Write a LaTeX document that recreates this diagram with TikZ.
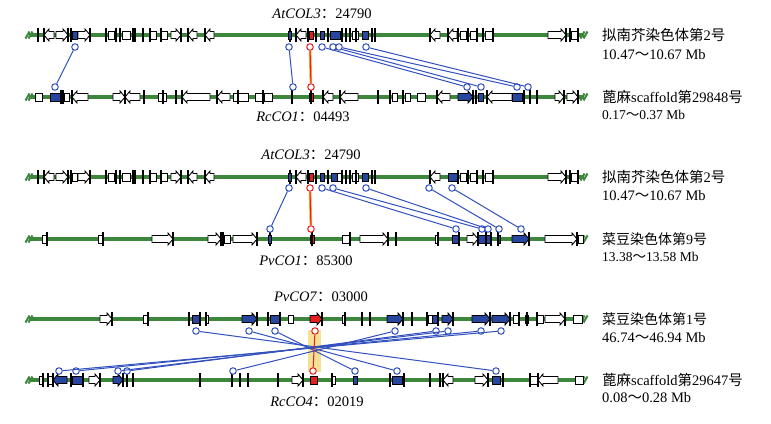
\documentclass[tikz,border=0pt]{standalone}
\usepackage{fontspec}
\setmainfont{Liberation Serif}
\newfontfamily\cjk{Noto Sans CJK SC}
\definecolor{trackgreen}{RGB}{60,135,60}
\definecolor{geneblue}{RGB}{40,70,160}
\definecolor{linkblue}{RGB}{50,80,190}
\definecolor{genered}{RGB}{230,30,30}
\definecolor{hlyellow}{RGB}{245,225,150}
\definecolor{glow}{RGB}{250,170,60}
\newcommand\zh[1]{{\cjk #1}}
\newcommand\GR[3]{\filldraw[gene,fill=#3] (#1,\gy-3.5) -- ({#2-5},\gy-3.5) -- ({#2-5},\gy-6) -- (#2,\gy) -- ({#2-5},\gy+6) -- ({#2-5},\gy+3.5) -- (#1,\gy+3.5) -- cycle; \draw[tk] (#2,\gy-7) -- (#2,\gy+7);}
\newcommand\GL[3]{\filldraw[gene,fill=#3] (#2,\gy-3.5) -- ({#1+5},\gy-3.5) -- ({#1+5},\gy-6) -- (#1,\gy) -- ({#1+5},\gy+6) -- ({#1+5},\gy+3.5) -- (#2,\gy+3.5) -- cycle; \draw[tk] (#1,\gy-7) -- (#1,\gy+7);}
\newcommand\GB[3]{\filldraw[gene,fill=#3] (#1,\gy-4) rectangle (#2,\gy+4);}
\newcommand\GT[1]{\draw[tk] (#1,\gy-7) -- (#1,\gy+7);}
\newcommand\TRACK[1]{\draw[track] (29,#1) -- (584,#1);
  \draw[mk] (25.5,#1+3.5) -- (29.5,#1-3.5); \draw[mk] (28.5,#1+3.5) -- (32.5,#1-3.5);
  \draw[mk] (580.5,#1+3.5) -- (584.5,#1-3.5); \draw[mk] (583.5,#1+3.5) -- (587.5,#1-3.5);}
\begin{document}
\begin{tikzpicture}[x=1pt,y=-1pt,
  track/.style={draw=trackgreen,line width=3.5pt},
  mk/.style={draw=trackgreen,line width=2pt},
  gene/.style={draw=black,line width=0.9pt},
  tk/.style={draw=black,line width=1.2pt},
  lk/.style={draw=linkblue,line width=1pt},
  bc/.style={circle,draw=linkblue,fill=white,inner sep=0pt,minimum size=6.5pt,line width=1pt},
  rc/.style={circle,draw=genered,fill=white,inner sep=0pt,minimum size=6.5pt,line width=1pt},
  rl/.style={draw=genered,line width=1pt},
  gl/.style={draw=glow,line width=2.6pt},
  lbl/.style={inner sep=0pt,font=\fontsize{14.5}{16}\selectfont},
  rt/.style={anchor=west,inner sep=0pt,font=\fontsize{14.5}{16}\selectfont},
  rtm/.style={anchor=west,inner sep=0pt,font=\fontsize{14}{16}\selectfont},
  rts/.style={anchor=west,inner sep=0pt,font=\fontsize{13.5}{15}\selectfont}]
\useasboundingbox (0,0) rectangle (771,423);
\fill[white] (0,0) rectangle (771,423);
\foreach \yy in {35,97,177,239,319,380} {\TRACK{\yy}}

% ---------- Panel 1 top (Arabidopsis) ----------
\def\gy{35}
\GT{38}\GL{44}{54}{white}\GR{56}{68}{white}\GB{72}{77}{geneblue}\GT{71}\GR{78}{90}{white}
\GT{106}\GB{108}{114}{white}\GT{116}\GT{120}\GB{122}{130}{white}\GT{133}\GT{135}
\GT{143}\GB{150}{156}{white}\GT{150}\GB{161}{167}{white}\GT{161}\GR{171}{181}{white}
\GL{188}{197}{white}\GL{205}{214}{white}
\GT{290}\GB{288.5}{291.5}{geneblue}\GL{296}{306}{white}\GT{308}\GB{309}{313}{genered}\GT{316}
\GB{320}{324}{geneblue}\GT{328}\GB{330}{340}{geneblue}\GT{342}\GT{346}\GT{350}\GB{352}{358}{white}\GT{356}
\GB{362}{368}{geneblue}\GT{372}\GT{375}
\GL{430}{440}{white}\GL{448}{457}{white}\GT{458}\GB{460}{466}{white}\GT{468}\GB{470}{476}{white}\GT{477}
\GT{483}\GB{485}{492}{white}\GT{493}
\GR{548}{566}{white}\GT{570}\GB{571}{577}{white}\GT{578}

% ---------- Panel 1 bottom (castor 29848) ----------
\def\gy{97}
\GB{35}{42}{white}\GB{50}{60}{geneblue}\GT{61}\GT{63}\GB{64}{69}{white}\GL{72}{88}{white}
\GR{113}{125}{white}\GL{125}{140}{white}\GT{144}\GB{158}{166}{white}\GT{163}\GT{176}
\GL{182}{210}{white}\GL{217}{230}{white}\GB{233}{248}{white}\GT{238}\GB{255}{263}{white}\GT{263}\GB{264}{272}{white}
\GT{292}\GB{309}{313}{genered}\GT{311}\GL{323}{333}{white}\GL{340}{358}{white}\GT{378}
\GT{390}\GB{392}{397}{white}\GT{403}\GB{405}{410}{white}\GB{417}{425}{white}\GL{437}{450}{white}
\GR{458}{473}{geneblue}\GT{476}\GB{478}{483}{geneblue}\GL{487}{512}{white}\GB{512}{522}{geneblue}
\GT{524}\GT{530}\GT{537}\GR{555}{564}{white}\GR{567}{578}{white}

% ---------- Panel 2 top (Arabidopsis) ----------
\def\gy{177}
\GT{38}\GL{44}{54}{white}\GR{56}{68}{white}\GB{72}{77}{white}\GT{71}\GR{78}{90}{white}
\GT{106}\GB{108}{114}{white}\GT{116}\GT{120}\GB{122}{130}{white}\GT{133}\GT{135}
\GT{143}\GB{150}{156}{white}\GT{150}\GB{161}{167}{white}\GT{161}\GR{171}{181}{white}
\GL{188}{197}{white}\GL{205}{214}{white}
\GT{290}\GB{288.5}{291.5}{geneblue}\GL{296}{306}{white}\GT{308}\GB{309}{313}{genered}\GT{316}
\GB{320}{324}{geneblue}\GT{328}\GB{331}{337}{geneblue}\GB{337}{341}{white}\GT{342}\GT{346}\GT{350}\GB{352}{358}{white}\GT{356}
\GB{362}{368}{geneblue}\GT{372}\GT{375}
\GL{430}{440}{white}\GB{448}{457}{geneblue}\GT{458}\GB{460}{466}{white}\GT{468}\GB{470}{476}{white}\GT{477}
\GT{483}\GB{485}{492}{white}\GT{493}
\GR{548}{566}{white}\GT{570}\GB{571}{577}{white}\GT{578}

% ---------- Panel 2 bottom (bean chr 9) ----------
\def\gy{239}
\GB{42}{47}{white}\GT{47}\GB{98}{103}{white}\GT{103}\GR{152}{173}{white}
\GR{208}{221}{white}\GT{223}\GB{224}{230}{white}\GR{233}{257}{white}
\GT{270}\GB{268.5}{271.5}{geneblue}\GB{310}{314}{genered}\GT{312}
\GB{342}{350}{white}\GT{350}\GR{360}{388}{white}\GT{396}\GB{435}{438}{white}\GT{438}
\GB{452}{458}{geneblue}\GT{459}\GR{467}{478}{white}\GB{478}{485}{geneblue}\GT{486}\GB{486}{490}{geneblue}\GT{491}
\GB{497}{500}{geneblue}\GT{498}\GR{512}{529}{geneblue}\GR{545}{577}{white}\GB{578}{583}{white}

% ---------- Panel 3 top (bean chr 1) ----------
\def\gy{319}
\GR{100}{112}{white}\GB{143}{148}{white}\GT{148}
\GT{189}\GB{192}{200}{geneblue}\GT{200}\GB{205}{208}{white}\GT{206}
\GR{242}{257}{geneblue}\GT{268}\GB{270}{279}{geneblue}\GT{280}\GB{288}{293}{white}
\GR{310}{322}{genered}\GB{342}{345}{white}\GT{345}\GT{362}\GT{370}
\GR{387}{403}{geneblue}\GT{412}\GT{427}\GB{428}{432}{white}\GB{432}{437}{geneblue}\GT{438}
\GR{442}{453}{geneblue}\GR{472}{490}{geneblue}\GR{492}{510}{geneblue}
\GB{513}{518}{white}\GT{519}\GB{525}{528}{white}\GT{527}\GB{537}{543}{white}\GT{537}
\GR{545}{565}{white}\GB{573}{582}{white}

% ---------- Panel 3 bottom (castor 29647) ----------
\def\gy{380}
\GB{39}{43}{white}\GT{43}\GB{48}{52}{white}\GT{48}\GL{53}{67}{geneblue}\GT{71}\GB{72}{82}{geneblue}\GT{83}
\GR{89}{100}{white}\GR{113}{123}{geneblue}\GT{127}\GT{133}\GT{200}\GT{232}\GT{240}\GT{248}\GT{278}
\GR{292}{303}{white}\GB{310}{317}{genered}\GB{332}{335}{white}\GT{332}\GB{353}{357}{geneblue}
\GT{390}\GB{392}{402}{geneblue}\GT{404}\GT{430}\GT{440}\GL{443}{453}{white}
\GR{475}{488}{white}\GB{492}{500}{geneblue}\GT{503}\GT{530}\GB{530}{537}{white}\GL{538}{558}{white}\GB{575}{583}{white}

% ---------- links panel 1 ----------
\foreach \i/\xa/\xb in {1/75/55,2/289/293,3/322/467,4/333/481,5/339/517,6/366/528}{
  \node[bc] (pa\i) at (\xa,47) {}; \node[bc] (pb\i) at (\xb,87) {};
  \draw[lk] (pa\i) -- (pb\i);}
\node[rc] (pra) at (310,47) {}; \node[rc] (prb) at (311,87) {};
\draw[gl] (pra) -- (prb); \draw[rl] (pra) -- (prb);

% ---------- links panel 2 ----------
\foreach \i/\xa/\xb in {1/289/270,2/322/456,3/333/482,4/366/488,5/429/499,6/452/521}{
  \node[bc] (qa\i) at (\xa,188) {}; \node[bc] (qb\i) at (\xb,229) {};
  \draw[lk] (qa\i) -- (qb\i);}
\node[rc] (qra) at (310,188) {}; \node[rc] (qrb) at (311,229) {};
\draw[gl] (qra) -- (qrb); \draw[rl] (qra) -- (qrb);

% ---------- links panel 3 ----------
\fill[hlyellow] (308,330) rectangle (321,372);
\foreach \i/\xa/\xb in {1/196/496,2/249/397,3/275/355,4/395/233,5/436/127,6/448/118,7/481/76,8/501/59}{
  \node[bc] (sa\i) at (\xa,331) {}; \node[bc] (sb\i) at (\xb,371) {};
  \draw[lk] (sa\i) -- (sb\i);}
\node[rc] (sra) at (315,331) {}; \node[rc] (srb) at (313,371) {};
\draw[rl] (sra) -- (srb);

% ---------- gene labels ----------
\node[lbl] (l1t) at (322,14) {\textit{AtCOL3}\zh{：}24790};
\node[lbl] (l1b) at (303,117) {\textit{RcCO1}\zh{：}04493};
\node[lbl] (l2t) at (311,155) {\textit{AtCOL3}\zh{：}24790};
\node[lbl] (l2b) at (306,261) {\textit{PvCO1}\zh{：}85300};
\node[lbl] (l3t) at (321,297) {\textit{PvCO7}\zh{：}03000};
\node[lbl] (l3b) at (317,402) {\textit{RcCO4}\zh{：}02019};

% ---------- chromosome labels ----------
\node[rt] (c1a) at (602,35) {\zh{拟南芥染色体第}2\zh{号}};
\node[rt] (c1b) at (602,55) {10.47\zh{～}10.67 Mb};
\node[rt] (c2a) at (602,97) {\zh{蓖麻}scaffold\zh{第}29848\zh{号}};
\node[rts] (c2b) at (602,115) {0.17\zh{～}0.37 Mb};
\node[rt] (c3a) at (602,177) {\zh{拟南芥染色体第}2\zh{号}};
\node[rt] (c3b) at (602,196) {10.47\zh{～}10.67 Mb};
\node[rtm] (c4a) at (602,239) {\zh{菜豆染色体第}9\zh{号}};
\node[rts] (c4b) at (602,257) {13.38\zh{～}13.58 Mb};
\node[rtm] (c5a) at (602,319) {\zh{菜豆染色体第}1\zh{号}};
\node[rt] (c5b) at (602,338) {46.74\zh{～}46.94 Mb};
\node[rt] (c6a) at (602,380) {\zh{蓖麻}scaffold\zh{第}29647\zh{号}};
\node[rt] (c6b) at (602,398) {0.08\zh{～}0.28 Mb};
\end{tikzpicture}
\end{document}
